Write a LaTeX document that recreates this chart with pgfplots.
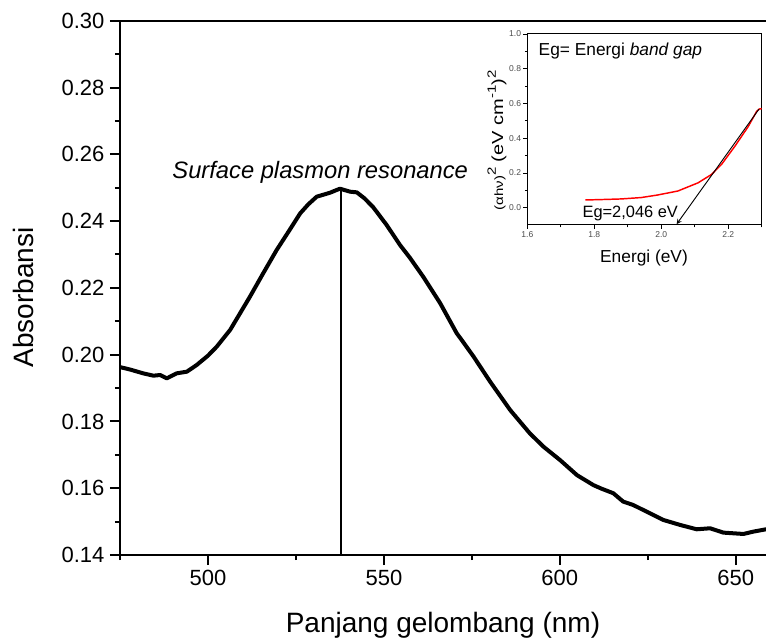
\documentclass[border=0pt]{standalone}
\usepackage{fontspec}
\setmainfont{Liberation Sans}
\usepackage{pgfplots}
\pgfplotsset{compat=1.18}
\pgfplotstableread{
x y
475.3 0.1962
478.0 0.1955
481.6 0.1944
484.5 0.1937
486.4 0.1939
488.3 0.1929
491.1 0.1944
494.0 0.1949
496.8 0.1969
500.0 0.1997
502.5 0.2024
506.3 0.2074
511.9 0.2173
515.5 0.2240
519.5 0.2313
523.0 0.2370
526.2 0.2423
528.5 0.2450
530.9 0.2473
534.7 0.2485
537.5 0.2497
540.4 0.2488
542.3 0.2486
544.5 0.2468
547.0 0.2441
550.8 0.2388
554.6 0.2328
557.4 0.2290
561.2 0.2233
566.0 0.2154
570.7 0.2064
572.1 0.2044
575.5 0.1994
580.2 0.1919
585.9 0.1834
591.5 0.1764
595.4 0.1724
600.1 0.1684
604.9 0.1639
609.6 0.1609
612.0 0.1598
615.2 0.1585
618.0 0.1560
620.8 0.1550
625.6 0.1525
629.4 0.1505
634.2 0.1490
638.9 0.1477
642.7 0.1480
646.5 0.1467
652.2 0.1463
655.0 0.1470
658.6 0.1477
}\spr
\pgfplotstableread{
x y
1.773 0.044
1.830 0.047
1.880 0.050
1.940 0.058
1.990 0.073
2.050 0.096
2.110 0.143
2.150 0.191
2.180 0.249
2.220 0.354
2.260 0.468
2.285 0.555
2.293 0.568
2.300 0.570
}\tauc
\begin{document}
\begin{tikzpicture}
\useasboundingbox (-90pt,-62.25pt) rectangle (484.5pt,416.25pt);
\begin{axis}[
  at={(0,0)}, anchor=south west,
  scale only axis, width=484.5pt, height=400.7pt,
  xmin=475, xmax=658.6, ymin=0.14, ymax=0.30,
  axis x line*=box, axis y line*=left,
  xtick pos=bottom, ytick pos=left,
  xtick={500,550,600,650}, minor xtick={475,525,575,625},
  ytick={0.14,0.16,0.18,0.20,0.22,0.24,0.26,0.28,0.30},
  minor ytick={0.15,0.17,0.19,0.21,0.23,0.25,0.27,0.29},
  tick align=outside,
  major tick length=7.5pt, minor tick length=3.75pt,
  every tick/.style={black, line width=1.5pt},
  axis line style={line width=1.5pt},
  /pgf/number format/assume math mode=true,
  ticklabel style={font=\fontsize{16.5}{19}\selectfont, inner sep=0pt},
  xticklabel style={yshift=-4pt},
  yticklabel style={xshift=-4pt, /pgf/number format/.cd, fixed, fixed zerofill, precision=2},
  clip=false,
]
\addplot[black, line width=3pt, line join=round, line cap=round] table[x=x,y=y] {\spr};
\addplot[black, line width=2pt] coordinates {(537.8,0.14) (537.8,0.2495)};
\node[anchor=base, font=\fontsize{17.8}{21}\selectfont\itshape] at (axis cs:531.9,0.2528) {Surface plasmon resonance};
\end{axis}
\node[rotate=90, font=\fontsize{21}{25}\selectfont] at (-72.75pt,193.1pt) {Absorbansi};
\node[anchor=base, font=\fontsize{21}{25}\selectfont] at (242.25pt,-57.75pt) {Panjang gelombang (nm)};
\begin{axis}[
  at={(305.5pt,247.5pt)}, anchor=south west,
  scale only axis, width=175.8pt, height=143.25pt,
  xmin=1.6, xmax=2.3, ymin=-0.1, ymax=1.0,
  axis background/.style={fill=white},
  xtick={1.6,1.8,2.0,2.2}, minor xtick={1.7,1.9,2.1,2.3},
  ytick={0,0.2,0.4,0.6,0.8,1.0}, minor ytick={0.1,0.3,0.5,0.7,0.9},
  tick align=outside, xtick pos=bottom, ytick pos=left,
  major tick length=3pt, minor tick length=1.8pt,
  every tick/.style={black, line width=0.6pt},
  axis line style={line width=0.75pt},
  /pgf/number format/assume math mode=true,
  ticklabel style={font=\fontsize{6.4}{7.5}\selectfont, text=black!70, inner sep=1.5pt},
  xticklabel style={/pgf/number format/.cd, fixed, fixed zerofill, precision=1},
  yticklabel style={/pgf/number format/.cd, fixed, fixed zerofill, precision=1},
  clip=false,
]
\addplot[red, line width=1.1pt] table[x=x,y=y] {\tauc};
\addplot[black, line width=0.7pt, -stealth] coordinates {(2.292,0.568) (2.046,-0.095)};
\node[anchor=base west, font=\fontsize{13}{15}\selectfont] at (axis cs:1.62,0.874) {Eg= Energi \textit{band gap}};
\node[anchor=base west, font=\fontsize{12.3}{14}\selectfont] at (axis cs:1.751,-0.057) {Eg=2,046 eV};
\end{axis}
\node[rotate=90, font=\fontsize{12}{14}\selectfont] at (282.75pt,310.9pt) {\scalebox{1.25}[1]{{\fontsize{9}{10}\selectfont(αhν)}\raisebox{0.45em}{\fontsize{9}{10}\selectfont 2} (eV cm\raisebox{0.45em}{\fontsize{9}{10}\selectfont -1})\raisebox{0.45em}{\fontsize{9}{10}\selectfont 2}}};
\node[anchor=base, font=\fontsize{13}{15}\selectfont] at (393pt,219.2pt) {Energi (eV)};
\end{tikzpicture}
\end{document}
